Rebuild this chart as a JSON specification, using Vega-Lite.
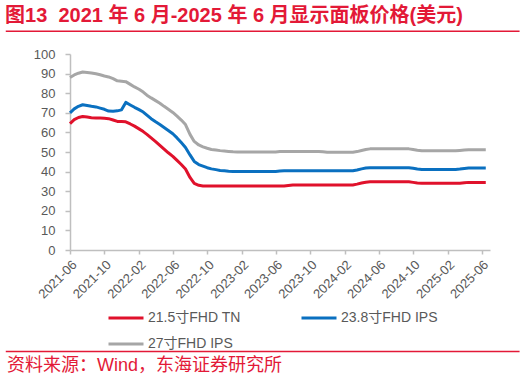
{
  "$schema": "https://vega.github.io/schema/vega-lite/v6.json",
  "background": "white",
  "padding": {"left": 5, "top": 5, "right": 5, "bottom": 5},
  "config": {
    "view": {"stroke": null},
    "font": "Liberation Sans, Noto Sans CJK SC, sans-serif",
    "axis": {
      "labelOverlap": false,
      "labelFlush": false,
      "labelColor": "#595959",
      "labelFontSize": 13,
      "domainColor": "#BFBFBF",
      "domainWidth": 1.5,
      "tickColor": "#BFBFBF",
      "tickWidth": 1.5,
      "grid": false,
      "title": null
    }
  },
  "title": {
    "text": "图13\u00a0\u00a02021 年 6 月-2025 年 6 月显示面板价格(美元)",
    "anchor": "start",
    "frame": "bounds",
    "fontSize": 20,
    "fontWeight": "bold",
    "color": "#E31937",
    "offset": 5
  },
  "width": 420,
  "height": 196,
  "resolve": {"axis": {"x": "independent", "y": "independent"}},
  "layer": [
    {
      "data": {
        "values": [
          {"d": "2021-06-01", "a": 64.5, "b": 70.0, "c": 88.0},
          {"d": "2021-06-16", "a": 66.5, "b": 72.0, "c": 89.3},
          {"d": "2021-07-01", "a": 67.6, "b": 73.3, "c": 90.2},
          {"d": "2021-07-16", "a": 68.1, "b": 74.1, "c": 90.8},
          {"d": "2021-08-01", "a": 67.8, "b": 73.7, "c": 90.6},
          {"d": "2021-08-16", "a": 67.5, "b": 73.3, "c": 90.3},
          {"d": "2021-09-01", "a": 67.4, "b": 73.0, "c": 89.9},
          {"d": "2021-09-16", "a": 67.3, "b": 72.4, "c": 89.4},
          {"d": "2021-10-01", "a": 67.2, "b": 71.8, "c": 88.8},
          {"d": "2021-10-16", "a": 67.0, "b": 70.9, "c": 88.3},
          {"d": "2021-11-01", "a": 66.3, "b": 70.8, "c": 87.4},
          {"d": "2021-11-16", "a": 65.6, "b": 71.0, "c": 86.3},
          {"d": "2021-12-01", "a": 65.5, "b": 71.5, "c": 86.1},
          {"d": "2021-12-16", "a": 65.4, "b": 75.3, "c": 85.9},
          {"d": "2022-01-01", "a": 64.3, "b": 74.0, "c": 84.5},
          {"d": "2022-01-16", "a": 63.2, "b": 72.8, "c": 83.2},
          {"d": "2022-02-01", "a": 61.8, "b": 71.6, "c": 82.0},
          {"d": "2022-02-16", "a": 60.4, "b": 70.4, "c": 80.6},
          {"d": "2022-03-01", "a": 59.0, "b": 68.8, "c": 79.0},
          {"d": "2022-03-16", "a": 57.2, "b": 67.0, "c": 77.6},
          {"d": "2022-04-01", "a": 55.3, "b": 65.4, "c": 76.2},
          {"d": "2022-04-16", "a": 53.4, "b": 64.0, "c": 74.9},
          {"d": "2022-05-01", "a": 51.5, "b": 62.5, "c": 73.3},
          {"d": "2022-05-16", "a": 49.6, "b": 61.0, "c": 71.8},
          {"d": "2022-06-01", "a": 47.8, "b": 59.3, "c": 70.2},
          {"d": "2022-06-16", "a": 45.7, "b": 57.2, "c": 68.3},
          {"d": "2022-07-01", "a": 43.6, "b": 54.8, "c": 66.3},
          {"d": "2022-07-16", "a": 41.3, "b": 52.3, "c": 64.0},
          {"d": "2022-08-01", "a": 37.0, "b": 48.5, "c": 59.0},
          {"d": "2022-08-16", "a": 34.0, "b": 45.2, "c": 55.4},
          {"d": "2022-09-01", "a": 33.0, "b": 43.6, "c": 53.6},
          {"d": "2022-09-16", "a": 32.7, "b": 42.8, "c": 52.6},
          {"d": "2022-10-01", "a": 32.6, "b": 42.0, "c": 51.9},
          {"d": "2022-10-16", "a": 32.6, "b": 41.4, "c": 51.3},
          {"d": "2022-11-01", "a": 32.6, "b": 41.0, "c": 51.0},
          {"d": "2022-11-16", "a": 32.6, "b": 40.6, "c": 50.7},
          {"d": "2022-12-01", "a": 32.6, "b": 40.4, "c": 50.5},
          {"d": "2022-12-16", "a": 32.6, "b": 40.2, "c": 50.3},
          {"d": "2023-01-01", "a": 32.6, "b": 40.1, "c": 50.1},
          {"d": "2023-01-16", "a": 32.6, "b": 40.1, "c": 50.0},
          {"d": "2023-02-01", "a": 32.6, "b": 40.1, "c": 50.0},
          {"d": "2023-02-16", "a": 32.6, "b": 40.1, "c": 50.0},
          {"d": "2023-03-01", "a": 32.6, "b": 40.1, "c": 50.0},
          {"d": "2023-03-16", "a": 32.6, "b": 40.1, "c": 50.0},
          {"d": "2023-04-01", "a": 32.6, "b": 40.1, "c": 50.0},
          {"d": "2023-04-16", "a": 32.6, "b": 40.1, "c": 50.0},
          {"d": "2023-05-01", "a": 32.6, "b": 40.1, "c": 50.0},
          {"d": "2023-05-16", "a": 32.6, "b": 40.1, "c": 50.0},
          {"d": "2023-06-01", "a": 32.6, "b": 40.1, "c": 50.0},
          {"d": "2023-06-16", "a": 32.6, "b": 40.3, "c": 50.2},
          {"d": "2023-07-01", "a": 32.6, "b": 40.4, "c": 50.3},
          {"d": "2023-07-16", "a": 32.9, "b": 40.4, "c": 50.3},
          {"d": "2023-08-01", "a": 33.2, "b": 40.4, "c": 50.3},
          {"d": "2023-08-16", "a": 33.2, "b": 40.4, "c": 50.3},
          {"d": "2023-09-01", "a": 33.2, "b": 40.4, "c": 50.3},
          {"d": "2023-09-16", "a": 33.2, "b": 40.4, "c": 50.3},
          {"d": "2023-10-01", "a": 33.2, "b": 40.4, "c": 50.3},
          {"d": "2023-10-16", "a": 33.2, "b": 40.4, "c": 50.3},
          {"d": "2023-11-01", "a": 33.2, "b": 40.4, "c": 50.3},
          {"d": "2023-11-16", "a": 33.2, "b": 40.4, "c": 50.1},
          {"d": "2023-12-01", "a": 33.2, "b": 40.4, "c": 49.9},
          {"d": "2023-12-16", "a": 33.2, "b": 40.4, "c": 49.9},
          {"d": "2024-01-01", "a": 33.2, "b": 40.4, "c": 49.9},
          {"d": "2024-01-16", "a": 33.2, "b": 40.4, "c": 49.9},
          {"d": "2024-02-01", "a": 33.2, "b": 40.4, "c": 49.9},
          {"d": "2024-02-16", "a": 33.2, "b": 40.4, "c": 49.9},
          {"d": "2024-03-01", "a": 33.2, "b": 40.4, "c": 49.9},
          {"d": "2024-03-16", "a": 33.6, "b": 40.8, "c": 50.2},
          {"d": "2024-04-01", "a": 34.2, "b": 41.4, "c": 50.8},
          {"d": "2024-04-16", "a": 34.6, "b": 41.8, "c": 51.3},
          {"d": "2024-05-01", "a": 34.8, "b": 42.0, "c": 51.6},
          {"d": "2024-05-16", "a": 34.8, "b": 42.0, "c": 51.6},
          {"d": "2024-06-01", "a": 34.8, "b": 42.0, "c": 51.6},
          {"d": "2024-06-16", "a": 34.8, "b": 42.0, "c": 51.6},
          {"d": "2024-07-01", "a": 34.8, "b": 42.0, "c": 51.6},
          {"d": "2024-07-16", "a": 34.8, "b": 42.0, "c": 51.6},
          {"d": "2024-08-01", "a": 34.8, "b": 42.0, "c": 51.6},
          {"d": "2024-08-16", "a": 34.8, "b": 42.0, "c": 51.6},
          {"d": "2024-09-01", "a": 34.8, "b": 42.0, "c": 51.6},
          {"d": "2024-09-16", "a": 34.8, "b": 42.0, "c": 51.6},
          {"d": "2024-10-01", "a": 34.5, "b": 41.7, "c": 51.3},
          {"d": "2024-10-16", "a": 34.2, "b": 41.3, "c": 50.9},
          {"d": "2024-11-01", "a": 34.0, "b": 41.1, "c": 50.6},
          {"d": "2024-11-16", "a": 34.0, "b": 41.1, "c": 50.6},
          {"d": "2024-12-01", "a": 34.0, "b": 41.1, "c": 50.6},
          {"d": "2024-12-16", "a": 34.0, "b": 41.1, "c": 50.6},
          {"d": "2025-01-01", "a": 34.0, "b": 41.1, "c": 50.6},
          {"d": "2025-01-16", "a": 34.0, "b": 41.1, "c": 50.6},
          {"d": "2025-02-01", "a": 34.0, "b": 41.1, "c": 50.6},
          {"d": "2025-02-16", "a": 34.0, "b": 41.1, "c": 50.6},
          {"d": "2025-03-01", "a": 34.0, "b": 41.1, "c": 50.6},
          {"d": "2025-03-16", "a": 34.1, "b": 41.3, "c": 50.8},
          {"d": "2025-04-01", "a": 34.3, "b": 41.6, "c": 51.0},
          {"d": "2025-04-16", "a": 34.5, "b": 41.8, "c": 51.1},
          {"d": "2025-05-01", "a": 34.5, "b": 41.8, "c": 51.1},
          {"d": "2025-05-16", "a": 34.5, "b": 41.8, "c": 51.1},
          {"d": "2025-06-01", "a": 34.5, "b": 41.8, "c": 51.1},
          {"d": "2025-06-16", "a": 34.5, "b": 41.8, "c": 51.1}
        ]
      },
      "transform": [{"fold": ["a", "b", "c"], "as": ["s", "p"]}],
      "mark": {"type": "line", "strokeWidth": 3, "strokeJoin": "round"},
      "encoding": {
        "x": {
          "field": "d",
          "type": "temporal",
          "scale": {
            "type": "utc",
            "domain": [
              {"year": 2021, "month": 6, "date": 1, "utc": true},
              {"year": 2025, "month": 7, "date": 1, "utc": true}
            ]
          },
          "axis": {
            "values": [
              {"year": 2021, "month": 6, "date": 1, "utc": true},
              {"year": 2021, "month": 10, "date": 1, "utc": true},
              {"year": 2022, "month": 2, "date": 1, "utc": true},
              {"year": 2022, "month": 6, "date": 1, "utc": true},
              {"year": 2022, "month": 10, "date": 1, "utc": true},
              {"year": 2023, "month": 2, "date": 1, "utc": true},
              {"year": 2023, "month": 6, "date": 1, "utc": true},
              {"year": 2023, "month": 10, "date": 1, "utc": true},
              {"year": 2024, "month": 2, "date": 1, "utc": true},
              {"year": 2024, "month": 6, "date": 1, "utc": true},
              {"year": 2024, "month": 10, "date": 1, "utc": true},
              {"year": 2025, "month": 2, "date": 1, "utc": true},
              {"year": 2025, "month": 6, "date": 1, "utc": true}
            ],
            "labelExpr": "utcFormat(datum.value, '%Y-%m')",
            "labelAngle": -45,
            "labelPadding": 4,
            "labelOverlap": false,
            "tickSize": 4
          }
        },
        "y": {
          "field": "p",
          "type": "quantitative",
          "scale": {"domain": [0, 100], "nice": false},
          "axis": {
            "values": [0, 10, 20, 30, 40, 50, 60, 70, 80, 90, 100],
            "labelPadding": 10,
            "labelOverlap": false,
            "tickSize": 5,
            "minExtent": 64,
            "maxExtent": 64
          }
        },
        "color": {
          "field": "s",
          "type": "nominal",
          "scale": {"domain": ["a", "b", "c"], "range": ["#E0112B", "#0A70C0", "#A6A6A6"]},
          "legend": {
            "title": null,
            "orient": "none",
            "direction": "horizontal",
            "legendX": 37,
            "legendY": 245,
            "columns": 2,
            "columnPadding": 54,
            "rowPadding": -11,
            "padding": 0,
            "symbolType": "stroke",
            "symbolSize": 1225,
            "symbolStrokeWidth": 3,
            "labelFontSize": 14,
            "labelColor": "#595959",
            "labelOffset": 3,
            "labelExpr": "{'a': '21.5寸FHD TN', 'b': '23.8寸FHD IPS', 'c': '27寸FHD IPS'}[datum.label]"
          }
        }
      }
    },
    {
      "data": {"values": [{}]},
      "mark": {"type": "rule", "color": "#E31937", "strokeWidth": 1.5},
      "encoding": {
        "x": {"datum": {"year": 2020, "month": 10, "date": 16, "utc": true}, "type": "temporal", "axis": null},
        "x2": {"datum": {"year": 2025, "month": 10, "date": 14, "utc": true}},
        "y": {"datum": 111.6, "type": "quantitative", "axis": null}
      }
    },
    {
      "data": {"values": [{}]},
      "mark": {"type": "rule", "color": "#E31937", "strokeWidth": 1.5},
      "encoding": {
        "x": {"datum": {"year": 2020, "month": 10, "date": 16, "utc": true}, "type": "temporal", "axis": null},
        "x2": {"datum": {"year": 2025, "month": 10, "date": 14, "utc": true}},
        "y": {"datum": -51.8, "type": "quantitative", "axis": null}
      }
    },
    {
      "data": {"values": [{}]},
      "mark": {"type": "text", "align": "left", "baseline": "middle", "fontSize": 18, "color": "#E31937"},
      "encoding": {
        "x": {"datum": {"year": 2020, "month": 10, "date": 20, "utc": true}, "type": "temporal", "axis": null},
        "y": {"datum": -59.0, "type": "quantitative", "axis": null},
        "text": {"value": "资料来源：Wind，东海证券研究所"}
      }
    }
  ]
}
